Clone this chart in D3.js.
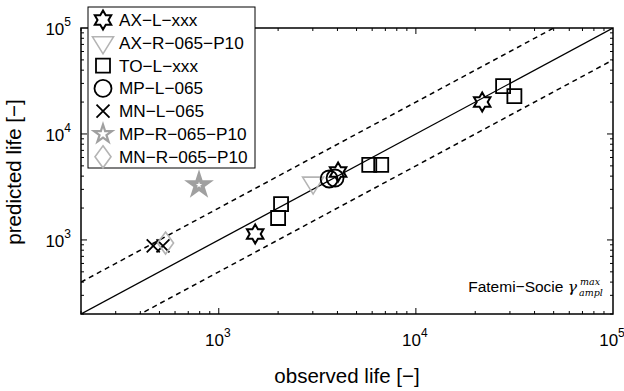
<!DOCTYPE html>
<html>
<head>
<meta charset="utf-8">
<script src="https://cdn.jsdelivr.net/npm/d3@7"></script>
<style>
  html, body { margin: 0; padding: 0; background: #fff; }
  svg { display: block; font-family: Arial, "Liberation Sans", Helvetica, sans-serif; }
</style>
</head>
<body>
<svg id="chart" width="624" height="391"></svg>
<script>
// Observed vs. predicted fatigue life (cycles), per specimen series
const seriesNames = ["AX\u2212L\u2212xxx", "AX\u2212R\u2212065\u2212P10", "TO\u2212L\u2212xxx", "MP\u2212L\u2212065",
                     "MN\u2212L\u2212065", "MP\u2212R\u2212065\u2212P10", "MN\u2212R\u2212065\u2212P10"];
const axL_obs   = [1530, 4030, 21700];
const axL_pred  = [1140, 4380, 20000];
const axR_obs   = [3010];
const axR_pred  = [3440];
const toL_obs   = [2000, 2070, 5800, 6670, 27700, 31600];
const toL_pred  = [1610, 2180, 5100, 5100, 28300, 22800];
const mpL_obs   = [3630, 3890];
const mpL_pred  = [3760, 3840];
const mnL_obs   = [465, 521];
const mnL_pred  = [877, 877];
const mpR_obs   = [794];
const mpR_pred  = [3300];
const mnR_obs   = [537];
const mnR_pred  = [935];
const axisDomain = [200, 1e5];
const decadeTicks = [1e3, 1e4, 1e5];
const yDecadeTicks = [1e3, 1e4, 1e5];
const scatterFactors = [2, 0.5];

const svg = d3.select("#chart");
const L = 81, R = 613, T = 28, B = 314;
const x = d3.scaleLog().domain(axisDomain).range([L, R]);
const y = d3.scaleLog().domain(axisDomain).range([B, T]);

// Marker shapes (paths centred on origin)
function hexagram(r) {
  const pts = [];
  for (let i = 0; i < 12; i++) {
    const a = -Math.PI / 2 + i * Math.PI / 6;
    const rr = i % 2 === 0 ? r : r / Math.sqrt(3);
    pts.push([rr * Math.cos(a), rr * Math.sin(a)]);
  }
  return "M" + pts.map(p => p.join(",")).join("L") + "Z";
}
function pentagram(r) {
  const pts = [];
  for (let i = 0; i < 10; i++) {
    const a = -Math.PI / 2 + i * Math.PI / 5;
    const rr = i % 2 === 0 ? r : r * 0.382;
    pts.push([rr * Math.cos(a), rr * Math.sin(a)]);
  }
  return "M" + pts.map(p => p.join(",")).join("L") + "Z";
}
function circlePath(r) { const p = d3.path(); p.arc(0, 0, r, 0, 2 * Math.PI); return p.toString(); }
const markers = [
  { path: hexagram(9.5), stroke: "#000", sw: 2 },
  { path: "M-10.5,-6L10.5,-6L0,11Z", stroke: "#b4b4b4", sw: 1.6 },
  { path: "M-7,-7H7V7H-7Z", stroke: "#000", sw: 1.8 },
  { path: circlePath(8.5), stroke: "#000", sw: 1.8 },
  { path: "M-6.5,-6.5L6.5,6.5M-6.5,6.5L6.5,-6.5", stroke: "#000", sw: 1.8 },
  { path: pentagram(9.5), stroke: "#a0a0a0", sw: 2.2 },
  { path: "M0,-11L8,0L0,11L-8,0Z", stroke: "#b4b4b4", sw: 1.6 }
];
const seriesData = [
  [axL_obs, axL_pred], [axR_obs, axR_pred], [toL_obs, toL_pred], [mpL_obs, mpL_pred],
  [mnL_obs, mnL_pred], [mpR_obs, mpR_pred], [mnR_obs, mnR_pred]
];

// Reference lines: equality and factor-of-two bands
svg.append("clipPath").attr("id", "plotclip").append("rect")
  .attr("x", L).attr("y", T).attr("width", R - L).attr("height", B - T);
const lineG = svg.append("g").attr("clip-path", "url(#plotclip)");
const lineGen = f => d3.line()([[x(axisDomain[0]), y(axisDomain[0] * f)], [x(axisDomain[1]), y(axisDomain[1] * f)]]);
lineG.append("path").attr("d", lineGen(1)).attr("stroke", "#000").attr("stroke-width", 1.3).attr("fill", "none");
scatterFactors.forEach(f => {
  lineG.append("path").attr("d", lineGen(f)).attr("stroke", "#000").attr("stroke-width", 1.5)
    .attr("stroke-dasharray", "5,4").attr("fill", "none");
});

// Axes: inward ticks on all four sides
const minorVals = [];
for (let d = 100; d < 1e5; d *= 10) for (let k = 1; k <= 9; k++) {
  const v = d * k; if (v >= axisDomain[0] && v <= axisDomain[1]) minorVals.push(v);
}
const tickG = svg.append("g").attr("stroke", "#000").attr("stroke-width", 1);
minorVals.forEach(v => {
  const major = decadeTicks.includes(v);
  const len = major ? 6 : 3;
  tickG.append("line").attr("x1", x(v)).attr("x2", x(v)).attr("y1", B).attr("y2", B - len);
  tickG.append("line").attr("x1", x(v)).attr("x2", x(v)).attr("y1", T).attr("y2", T + len);
  tickG.append("line").attr("y1", y(v)).attr("y2", y(v)).attr("x1", L).attr("x2", L + len);
  tickG.append("line").attr("y1", y(v)).attr("y2", y(v)).attr("x1", R).attr("x2", R - len);
});
svg.append("rect").attr("x", L).attr("y", T).attr("width", R - L).attr("height", B - T)
  .attr("fill", "none").attr("stroke", "#000").attr("stroke-width", 1.5);

// Tick labels as powers of ten
function powLabel(g, v, px, py, anchor) {
  const e = Math.round(Math.log10(v));
  const t = g.append("text").attr("x", px).attr("y", py).attr("text-anchor", anchor)
    .attr("font-size", 17).attr("fill", "#000");
  t.append("tspan").text("10");
  t.append("tspan").attr("dy", -9).attr("font-size", 12).text(e);
}
const labG = svg.append("g");
decadeTicks.forEach(v => powLabel(labG, v, x(v) - 1, B + 32, "middle"));
yDecadeTicks.forEach(v => powLabel(labG, v, L - 10, y(v) + 7, "end"));

svg.append("text").attr("x", 347).attr("y", 383).attr("text-anchor", "middle")
  .attr("font-size", 20.5).text("observed life [\u2212]");
svg.append("text").attr("transform", "translate(21,172) rotate(-90)").attr("text-anchor", "middle")
  .attr("font-size", 20.5).text("predicted life [\u2212]");

// Data markers
const ptG = svg.append("g");
seriesData.forEach((s, i) => {
  const m = markers[i];
  s[0].forEach((o, j) => {
    ptG.append("path").attr("d", m.path)
      .attr("transform", `translate(${x(o)},${y(s[1][j])})`)
      .attr("fill", "none").attr("stroke", m.stroke).attr("stroke-width", i === 5 ? 3.8 : m.sw)
      .attr("stroke-linejoin", "miter");
  });
});

// Criterion annotation
svg.append("text").attr("x", 577).attr("y", 292).attr("text-anchor", "end").attr("font-size", 15.5)
  .text("Fatemi\u2212Socie ")
  .append("tspan").attr("font-family", "'DejaVu Serif', serif").attr("font-style", "italic").text("\u03b3");
svg.append("text").attr("x", 580).attr("y", 285).attr("font-size", 9.5).attr("font-style", "italic")
  .attr("font-family", "'DejaVu Serif', serif").text("max");
svg.append("text").attr("x", 579).attr("y", 296).attr("font-size", 9.5).attr("font-style", "italic")
  .attr("font-family", "'DejaVu Serif', serif").text("ampl");

// Legend
const lg = svg.append("g");
lg.append("rect").attr("x", 88).attr("y", 7).attr("width", 167).attr("height", 161)
  .attr("fill", "#fff").attr("stroke", "#000").attr("stroke-width", 1);
seriesNames.forEach((name, i) => {
  const cy = 20 + i * 22.8;
  const m = markers[i];
  lg.append("path").attr("d", m.path).attr("transform", `translate(103,${cy})`)
    .attr("fill", "none").attr("stroke", m.stroke).attr("stroke-width", m.sw);
  lg.append("text").attr("x", 119).attr("y", cy + 6).attr("font-size", 17.2).text(name);
});
</script>
</body>
</html>
